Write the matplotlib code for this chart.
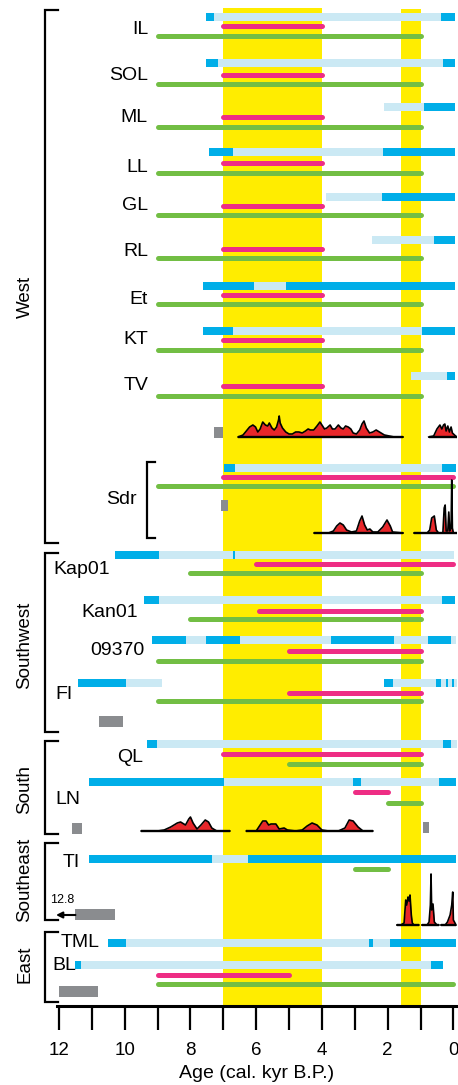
import matplotlib
matplotlib.use("Agg")
import matplotlib.pyplot as plt
from matplotlib.ticker import FixedLocator, FuncFormatter

plt.rcParams['font.family'] = ['Liberation Sans', 'DejaVu Sans']

# ------------------------------------------------------------------ data
cores = ["IL", "SOL", "ML", "LL", "GL", "RL", "Et", "KT", "TV", "Sdr",
         "Kap01", "Kan01", "09370", "FI", "QL", "LN", "TI", "TML", "BL"]

# sediment record bars: (start age, end age, kind) d = dark, l = light
bars = {
    "IL":    [(7.53, 7.28, 'd'), (7.28, 0.38, 'l'), (0.38, -0.06, 'd')],
    "SOL":   [(7.53, 7.16, 'd'), (7.16, 0.32, 'l'), (0.32, -0.06, 'd')],
    "ML":    [(2.11, 0.90, 'l'), (0.90, -0.06, 'd')],
    "LL":    [(7.43, 6.70, 'd'), (6.70, 2.14, 'l'), (2.14, -0.06, 'd')],
    "GL":    [(3.88, 2.17, 'l'), (2.17, -0.06, 'd')],
    "RL":    [(2.48, 0.59, 'l'), (0.59, -0.06, 'd')],
    "Et":    [(7.62, 6.07, 'd'), (6.07, 5.09, 'l'), (5.09, -0.06, 'd')],
    "KT":    [(7.62, 6.70, 'd'), (6.70, 0.96, 'l'), (0.96, -0.06, 'd')],
    "TV":    [(1.29, 0.20, 'l'), (0.20, -0.06, 'd')],
    "Sdr":   [(6.98, 6.65, 'd'), (6.65, 0.35, 'l'), (0.35, -0.08, 'd')],
    "Kap01": [(10.30, 8.96, 'd'), (8.96, 6.70, 'l'), (6.70, 6.63, 'd'), (6.63, -0.02, 'l')],
    "Kan01": [(9.41, 8.96, 'd'), (8.96, 0.35, 'l'), (0.35, -0.04, 'd')],
    "09370": [(9.17, 8.14, 'd'), (8.14, 7.53, 'l'), (7.53, 6.49, 'd'), (6.49, 3.73, 'l'),
              (3.73, 1.81, 'd'), (1.81, 0.78, 'l'), (0.78, 0.08, 'd'), (0.08, -0.08, 'l')],
    "FI":    [(11.42, 9.96, 'd'), (9.96, 8.86, 'l'),
              (2.11, 1.84, 'd'), (1.84, 0.53, 'l'), (0.53, 0.38, 'd'), (0.38, 0.23, 'l'),
              (0.23, 0.17, 'd'), (0.17, 0.05, 'l'), (0.05, -0.01, 'd'), (-0.01, -0.10, 'l')],
    "QL":    [(9.32, 9.02, 'd'), (9.02, 0.32, 'l'), (0.32, 0.08, 'd'), (0.08, -0.10, 'l')],
    "LN":    [(11.09, 6.98, 'd'), (6.98, 3.06, 'l'), (3.06, 2.81, 'd'), (2.81, 0.44, 'l'),
              (0.44, -0.08, 'd')],
    "TI":    [(11.09, 7.35, 'd'), (7.35, 6.25, 'l'), (6.25, -0.08, 'd')],
    "TML":   [(10.50, 9.96, 'd'), (9.96, 2.57, 'l'), (2.57, 2.45, 'd'), (2.45, 1.93, 'l'),
              (1.93, -0.08, 'd')],
    "BL":    [(11.50, 11.33, 'd'), (11.33, 0.68, 'l'), (0.68, 0.32, 'd')],
}

# pink ranges (start, end)
pink = {
    "IL": (7.0, 4.0), "SOL": (7.0, 4.0), "ML": (7.0, 4.0), "LL": (7.0, 4.0),
    "GL": (7.0, 4.0), "RL": (7.0, 4.0), "Et": (7.0, 4.0), "KT": (7.0, 4.0),
    "TV": (7.0, 4.0), "Sdr": (7.0, 0.0), "Kap01": (6.0, 0.0), "Kan01": (5.9, 1.0),
    "09370": (5.0, 1.0), "FI": (5.0, 1.0), "QL": (7.0, 1.0), "LN": (3.0, 2.0),
    "BL": (9.0, 5.0),
}

# green ranges (start, end)
green = {
    "IL": (9.0, 1.0), "SOL": (9.0, 1.0), "ML": (9.0, 1.0), "LL": (9.0, 1.0),
    "GL": (9.0, 1.0), "RL": (9.0, 1.0), "Et": (9.0, 1.0), "KT": (9.0, 1.0),
    "TV": (9.0, 1.0), "Sdr": (9.0, 0.0), "Kap01": (8.0, 1.0), "Kan01": (8.0, 1.0),
    "09370": (9.0, 1.0), "FI": (9.0, 1.0), "QL": (5.0, 1.0), "LN": (2.0, 1.0),
    "TI": (3.0, 2.0), "BL": (9.0, 0.0),
}

# grey boxes (start, end)
gray_west = (7.28, 7.02)
gray_sdr = (7.07, 6.86)
gray_sw = (10.78, 10.05)
gray_south = [(11.60, 11.30), (0.93, 0.74)]
gray_se = (11.50, 10.30)
gray_east = (12.00, 10.80)
se_arrow_label = "12.8"

# yellow intervals
yellow = [(7.0, 4.0), (1.6, 1.0)]

# summed probability curves: list of (ages, values) segments
dens_west = [
    ([6.55, 6.4, 6.3, 6.2, 6.1, 6.02, 5.95, 5.88, 5.8, 5.72, 5.65, 5.6, 5.52, 5.45, 5.38,
      5.32, 5.3, 5.27, 5.2, 5.1, 5.0, 4.9, 4.8, 4.7, 4.6, 4.5, 4.42, 4.35, 4.25, 4.15,
      4.06, 4.0, 3.92, 3.85, 3.75, 3.68, 3.6, 3.5, 3.42, 3.35, 3.28, 3.2, 3.12, 3.05,
      2.95, 2.85, 2.78, 2.72, 2.65, 2.55, 2.45, 2.35, 2.25, 2.1, 1.95, 1.8, 1.53],
     [0, 2, 6, 10, 12, 10, 5, 8, 15, 12, 11, 14, 9, 7, 10,
      17, 21, 14, 9, 5, 3, 3, 5, 5, 4, 6, 8, 7, 7, 11,
      15, 12, 8, 9, 12, 8, 8, 12, 9, 8, 11, 10, 8, 4,
      3, 7, 13, 16, 9, 4, 5, 7, 5, 2, 1, 0, 0]),
    ([0.75, 0.6, 0.5, 0.41, 0.35, 0.3, 0.26, 0.22, 0.17, 0.12, 0.07, 0.03, -0.1],
     [0, 1, 8, 12, 8, 12, 13, 6, 11, 5, 10, 4, 0]),
]
dens_sdr = [
    ([4.24, 3.8, 3.65, 3.55, 3.45, 3.35, 3.25, 3.1, 2.95, 2.85, 2.78, 2.7, 2.62, 2.54,
      2.45, 2.3, 2.15, 2.02, 1.92, 1.85, 1.53],
     [0, 0, 2, 7, 10, 8, 3, 1, 2, 12, 17, 8, 3, 4, 1, 1, 6, 13, 7, 1, 0]),
    ([1.2, 0.8, 0.72, 0.66, 0.58, 0.52, 0.45, 0.32, 0.28, 0.25, 0.22, 0.17, 0.14, 0.11,
      0.07, 0.05, 0.03, 0.0, -0.1],
     [0, 0, 3, 15, 17, 3, 0, 0, 25, 28, 2, 2, 21, 2, 5, 53, 5, 0, 0]),
]
dens_south = [
    ([9.5, 9.0, 8.8, 8.6, 8.4, 8.3, 8.15, 8.05, 8.0, 7.92, 7.8, 7.68, 7.55, 7.45, 7.35,
      7.2, 6.8],
     [0, 0, 1, 4, 8, 9, 6, 12, 14, 8, 2, 6, 11, 9, 3, 0, 0]),
    ([6.3, 6.0, 5.9, 5.8, 5.7, 5.62, 5.55, 5.4, 5.3, 5.15, 5.05, 4.8, 4.6, 4.45, 4.3,
      4.15, 4.0, 3.8, 3.5, 3.3, 3.17, 3.05, 2.9, 2.75, 2.45],
     [0, 0, 5, 10, 10, 6, 7, 7, 2, 3, 1, 0, 1, 5, 8, 6, 1, 0, 0, 3, 11, 10, 4, 0, 0]),
]
dens_se = [
    ([1.72, 1.6, 1.5, 1.45, 1.42, 1.38, 1.35, 1.32, 1.28, 1.25, 1.2, 1.05],
     [0, 0, 2, 25, 20, 28, 24, 30, 10, 2, 0, 0]),
    ([0.96, 0.8, 0.74, 0.7, 0.68, 0.66, 0.62, 0.58, 0.5, 0.44],
     [0, 0, 3, 20, 51, 15, 21, 3, 0, 0]),
    ([0.38, 0.25, 0.18, 0.1, 0.05, 0.02, 0.0, -0.08],
     [0, 0, 3, 10, 20, 33, 5, 0]),
]

xticks = list(range(0, 13))
xlabel = "Age (cal. kyr B.P.)"

# ------------------------------------------------------------------ layout
W, H = 458, 1085
AX_L, AX_R, AX_BOT = 57, 457, 1006
XLIM = (12.06, -0.11)

row_y = {  # (bar, pink, green) y in pixels
    "IL": (17, 26, 36), "SOL": (63, 75, 84), "ML": (107, 117, 127),
    "LL": (152, 163, 173), "GL": (197, 206, 215), "RL": (240, 249, 258),
    "Et": (286, 295, 304), "KT": (331, 340, 350), "TV": (376, 386, 396),
    "Sdr": (468, 477, 486), "Kap01": (555, 564, 573), "Kan01": (600, 611, 619),
    "09370": (640, 651, 661), "FI": (683, 693, 701), "QL": (744, 754, 764),
    "LN": (782, 792, 803), "TI": (859, None, 869), "TML": (943, None, None),
    "BL": (965, 975, 984),
}
label_pos = {  # x px, y px, ha
    "IL": (148, 29, 'right'), "SOL": (148, 75, 'right'), "ML": (148, 117, 'right'),
    "LL": (148, 168, 'right'), "GL": (148, 206, 'right'), "RL": (148, 252, 'right'),
    "Et": (148, 299, 'right'), "KT": (148, 340, 'right'), "TV": (148, 386, 'right'),
    "Sdr": (137, 500, 'right'), "Kap01": (53, 570, 'left'), "Kan01": (81, 613, 'left'),
    "09370": (90, 651, 'left'), "FI": (55, 695, 'left'), "QL": (117, 758, 'left'),
    "LN": (55, 800, 'left'), "TI": (63, 863, 'left'), "TML": (61, 943, 'left'),
    "BL": (52, 966, 'left'),
}
groups = [  # name, y0, y1, label center y
    ("West", 10, 543, 297), ("Southwest", 553, 732, 645), ("South", 741, 834, 790),
    ("Southeast", 843, 920, 880), ("East", 932, 1002, 964),
]

C_DARK = '#00AEE8'
C_LIGHT = '#CBE9F4'
C_PINK = '#EE2D84'
C_GREEN = '#72BE44'
C_YELLOW = '#FFED00'
C_GRAY = '#8A8C8F'
C_RED = '#E8262A'

fig = plt.figure(figsize=(W / 100, H / 100), dpi=100)
ax = fig.add_axes([AX_L / W, 1 - AX_BOT / H, (AX_R - AX_L) / W, AX_BOT / H])
ax.set_xlim(*XLIM)
ax.set_ylim(AX_BOT, 0)


def px2age(px):
    return XLIM[0] + (px - AX_L) / (AX_R - AX_L) * (XLIM[1] - XLIM[0])


# yellow bands
ax.axvspan(yellow[0][1], yellow[0][0], ymin=0, ymax=1 - 8 / AX_BOT, color=C_YELLOW, lw=0, zorder=0)
ax.axvspan(yellow[1][1], yellow[1][0], ymin=0, ymax=1 - 9 / AX_BOT, color=C_YELLOW, lw=0, zorder=0)

# bars, pink & green lines
for c in cores:
    yb, yp, yg = row_y[c]
    for s, e, k in bars[c]:
        ax.barh(yb, abs(s - e), left=min(s, e), height=8,
                color=C_DARK if k == 'd' else C_LIGHT, lw=0, zorder=2)
    if c in pink:
        s, e = pink[c]
        ax.plot([s, e], [yp, yp], color=C_PINK, lw=3.6, solid_capstyle='round', zorder=3)
    if c in green:
        s, e = green[c]
        ax.plot([s, e], [yg, yg], color=C_GREEN, lw=3.6, solid_capstyle='round', zorder=3)
    x, y, ha = label_pos[c]
    ax.text(px2age(x), y, c, ha=ha, va='center', fontsize=14, zorder=5)


def gray_box(rng, yc, h=11):
    s, e = rng
    ax.barh(yc, abs(s - e), left=min(s, e), height=h, color=C_GRAY, lw=0, zorder=2,
            clip_on=False)


gray_box(gray_west, 432.5)
gray_box(gray_sdr, 505.5)
gray_box(gray_sw, 721.5)
gray_box(gray_south[0], 828.5)
gray_box(gray_south[1], 828)
gray_box(gray_se, 914.5)
gray_box(gray_east, 991.5)

ax.annotate("", xy=(px2age(56), 915), xytext=(gray_se[0], 915),
            arrowprops=dict(arrowstyle='-|>', lw=1.5, color='black', mutation_scale=9,
                            shrinkA=0, shrinkB=0), annotation_clip=False, zorder=4)
ax.text(px2age(62), 900, se_arrow_label, ha='center', va='center', fontsize=9)


def density(segments, base):
    for ages, vals in segments:
        top = [base - v for v in vals]
        ax.fill_between(ages, base, top, color=C_RED, lw=0, zorder=3)
        ax.plot(ages, top, color='black', lw=1.2, zorder=4)
        ax.plot([ages[0], ages[-1]], [base, base], color='black', lw=1.7,
                solid_capstyle='butt', zorder=4)


density(dens_west, 437)
density(dens_sdr, 533)
density(dens_south, 831)
density(dens_se, 925)


def bracket(xpx, y0, y1, tick):
    xa, xb = px2age(xpx), px2age(xpx + tick)
    ax.plot([xb, xa, xa, xb], [y0, y0, y1, y1], color='black', lw=1.6,
            clip_on=False, solid_joinstyle='miter', zorder=5)


for name, y0, y1, yc in groups:
    bracket(45, y0, y1, 13)
    ax.text(px2age(25), yc, name, rotation=90, ha='center', va='center', fontsize=13.5)
bracket(147, 462, 538, 8)

# axes styling
for sp in ['top', 'left', 'right']:
    ax.spines[sp].set_visible(False)
ax.spines['bottom'].set_linewidth(2.2)
ax.set_yticks([])
ax.xaxis.set_major_locator(FixedLocator(xticks))
ax.xaxis.set_major_formatter(FuncFormatter(
    lambda v, p: f"{int(round(v))}" if int(round(v)) % 2 == 0 else ""))
ax.tick_params(axis='x', direction='out', length=17, width=1.6, labelsize=13.5, pad=9)
ax.set_xlabel(xlabel, fontsize=14)
ax.xaxis.set_label_coords(0.5, (AX_BOT - 1073) / AX_BOT)
ax.xaxis.label.set_va('center')

fig.savefig("out.png", dpi=100)
